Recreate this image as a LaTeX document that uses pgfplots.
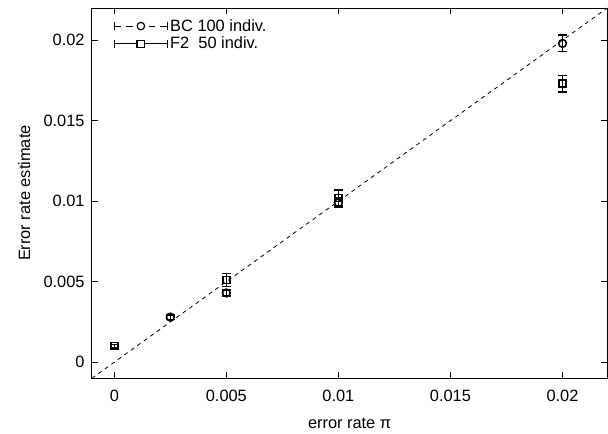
\documentclass[border=0pt]{standalone}
\usepackage{fontspec}
\setmainfont{Liberation Sans}
\usepackage{pgfplots}
\pgfplotsset{compat=1.18}

\begin{document}
\begin{tikzpicture}
  \begin{axis}[
    scale only axis=true,
    width=387pt, height=278pt,
    xmin=-0.001, xmax=0.022,
    ymin=-0.001, ymax=0.022,
    scaled ticks=false,
    xtick={0,0.005,0.01,0.015,0.02},
    xticklabels={0,0.005,0.01,0.015,0.02},
    ytick={0,0.005,0.01,0.015,0.02},
    yticklabels={0,0.005,0.01,0.015,0.02},
    tick align=inside,
    major tick length=4.5pt,
    tick style={line width=0.6pt,black},
    axis line style={line width=0.7pt},
    /pgf/number format/assume math mode=true,
    tick label style={font=\fontsize{12.3}{14}\selectfont},
    label style={font=\fontsize{12.3}{14}\selectfont},
    xticklabel style={yshift=-5pt},
    yticklabel style={xshift=-2pt},
    xlabel={error rate π},
    ylabel={Error rate estimate},
    xlabel style={yshift=-6pt},
    ylabel style={yshift=3pt},
    legend style={
      draw=none, fill=none,
      at={(0.035,0.985)}, anchor=north west,
      font=\fontsize{12.3}{14}\selectfont,
      row sep=-1pt,
      /tikz/every even column/.append style={column sep=3pt},
    },
    legend cell align=left,
  ]

  % reference line y = x
  \addplot[black, dashed, line width=0.6pt, forget plot]
    coordinates {(-0.001,-0.001) (0.022,0.022)};

  % BC, 100 individuals
  \addplot[only marks, black, mark=o, mark size=2.9pt, line width=1.2pt,
    legend image code/.code={
      \draw[line width=0.8pt, dash pattern=on 5pt off 3.5pt] (0cm,0cm) -- (1.38cm,0cm);
      \draw[line width=0.8pt] (0cm,-3pt) -- (0cm,3pt) (1.38cm,-3pt) -- (1.38cm,3pt);
      \draw[line width=0.9pt, fill=white] (0.69cm,0cm) circle (2.8pt);
    },
    error bars/.cd, y dir=both, y explicit,
    error bar style={line width=1.1pt}, error mark options={rotate=90, mark size=3.2pt, line width=1.3pt}]
    coordinates {
      (0.0025,0.0028) +- (0,0.00015)
      (0.005,0.0043)  +- (0,0.0002)
      (0.01,0.0099)   +- (0,0.0003)
      (0.02,0.0198)   +- (0,0.0005)
    };
  \addlegendentry{BC 100 indiv.}

  % F2, 50 individuals
  \addplot[only marks, black, mark=square, mark size=2.7pt, line width=1.2pt,
    legend image code/.code={
      \draw[line width=0.8pt] (0cm,0cm) -- (1.38cm,0cm);
      \draw[line width=0.8pt] (0cm,-3pt) -- (0cm,3pt) (1.38cm,-3pt) -- (1.38cm,3pt);
      \draw[line width=0.9pt, fill=white] (0.59cm,-2.7pt) rectangle (0.78cm,2.7pt);
    },
    error bars/.cd, y dir=both, y explicit,
    error bar style={line width=1.1pt}, error mark options={rotate=90, mark size=3.2pt, line width=1.3pt}]
    coordinates {
      (0,0.001)       +- (0,0.0001)
      (0.005,0.0051)  +- (0,0.0004)
      (0.01,0.0102)   +- (0,0.0005)
      (0.02,0.0173)   +- (0,0.0005)
    };
  \addlegendentry{F2\ \ 50 indiv.}

  \end{axis}
  % white margins as in the reference
  \path ([xshift=-69pt,yshift=-40pt]current axis.south west) rectangle ([xshift=0.5pt,yshift=6pt]current axis.north east);
\end{tikzpicture}
\end{document}
